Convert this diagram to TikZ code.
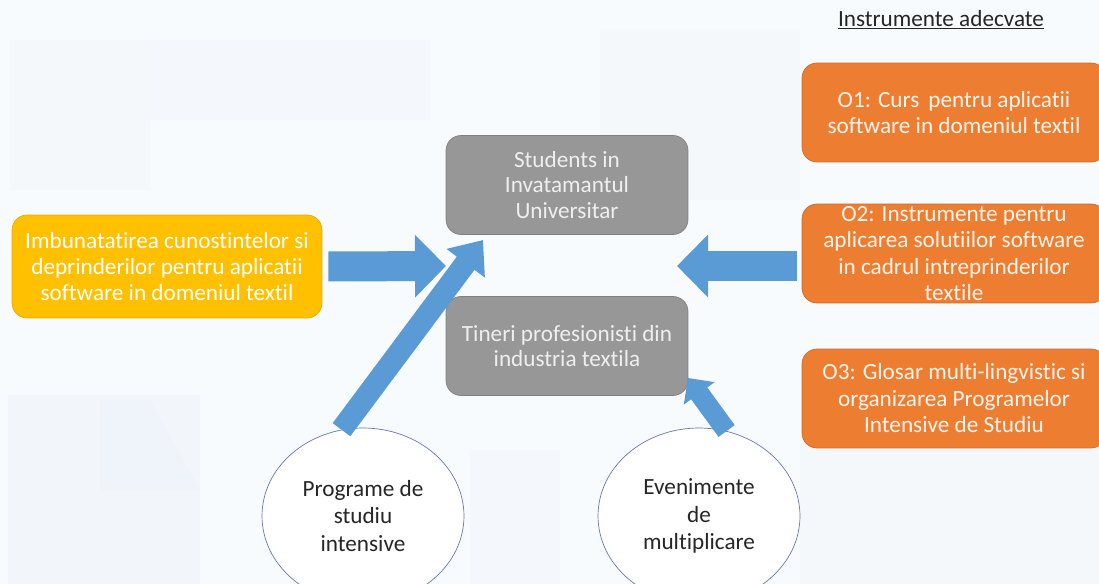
\documentclass[tikz,border=0pt]{standalone}
\usepackage{fontspec}
\setmainfont{Carlito}[Ligatures=NoCommon]
\usepackage{xcolor}
\usepackage{tikz}
\usetikzlibrary{arrows.meta,shapes.geometric,calc}

\definecolor{bgbase}{HTML}{F8FBFD}
\definecolor{bgpatch}{HTML}{EEF4FA}
\definecolor{aimyellow}{HTML}{FFC000}
\definecolor{aimyellowline}{HTML}{E3AC00}
\definecolor{groupgray}{HTML}{979797}
\definecolor{groupgrayline}{HTML}{808080}
\definecolor{grouptext}{HTML}{EFEFEF}
\definecolor{toolorange}{HTML}{ED7D31}
\definecolor{toolorangeline}{HTML}{D0692A}
\definecolor{tooltext}{HTML}{FFF4EC}
\definecolor{flowblue}{HTML}{5B9BD5}
\definecolor{ovalline}{HTML}{6A78B0}

\begin{document}
\begin{tikzpicture}[x=0.02cm, y=-0.02cm,
    boxbase/.style={rounded corners=0.3cm, align=center, inner sep=0pt},
    aimbox/.style={boxbase, fill=aimyellow, draw=aimyellowline, text=white,
        minimum width=6.2cm, minimum height=2.06cm, font=\fontsize{13.2}{14.8}\selectfont},
    groupbox/.style={boxbase, fill=groupgray, draw=groupgrayline, text=grouptext,
        minimum width=4.84cm, minimum height=1.98cm, font=\fontsize{13.2}{14.4}\selectfont},
    toolbox/.style={boxbase, fill=toolorange, draw=toolorangeline, text=tooltext,
        minimum width=6.08cm, minimum height=1.98cm, font=\fontsize{13.2}{15.1}\selectfont},
    tooltxt/.style={align=center, inner sep=0pt, text=tooltext, font=\fontsize{13.2}{15.1}\selectfont},
    oval/.style={ellipse, draw=ovalline, fill=white, inner sep=0pt, align=center,
        minimum width=4.04cm, minimum height=3.52cm, text=black!85,
        font=\fontsize{13.2}{15.6}\selectfont},
    flatarrow/.style={draw=flowblue, line width=0.6cm, -{Triangle[length=0.62cm, width=1.22cm]}},
    slantarrow/.style={draw=flowblue, line width=0.44cm, -{Triangle[length=0.58cm, width=0.92cm]}},
    shortarrow/.style={draw=flowblue, line width=0.4cm, -{Triangle[length=0.38cm, width=0.74cm]}}
]
    % Page frame and pale background
    \useasboundingbox (0,0) rectangle (1099,584);
    \clip (0,0) rectangle (1099,584);
    \fill[bgbase] (0,0) rectangle (1099,584);
    \fill[bgpatch, opacity=0.6] (8,395) -- (200,395) -- (200,584) -- (8,584) -- cycle;
    \fill[bgpatch, opacity=0.5] (100,400) -- (150,400) -- (200,490) -- (100,490) -- cycle;
    \fill[bgpatch, opacity=0.4] (10,40) -- (150,40) -- (150,190) -- (10,190) -- cycle;
    \fill[bgpatch, opacity=0.3] (150,40) -- (430,40) -- (430,120) -- (150,120) -- cycle;
    \fill[bgpatch, opacity=0.4] (600,30) -- (800,30) -- (800,200) -- (600,200) -- cycle;
    \fill[bgpatch, opacity=0.4] (800,440) -- (1099,440) -- (1099,584) -- (800,584) -- cycle;
    \fill[bgpatch, opacity=0.3] (470,450) -- (560,450) -- (560,584) -- (470,584) -- cycle;

    % Heading of the tools column
    \node[text=black!85, font=\fontsize{13.2}{15}\selectfont] (tooltitle) at (941,20) {\underline{Instrumente adecvate}};

    % Aim
    \node[aimbox] (aim) at (167,266.5) {Imbunatatirea cunostintelor si\\deprinderilor pentru aplicatii\\software in domeniul textil};

    % Target groups
    \node[groupbox] (students) at (567,185) {Students in\\Invatamantul\\Universitar};
    \node[groupbox] (youth) at (567,346) {Tineri profesionisti din\\industria textila};

    % Tools O1--O3
    \node[toolbox] (o1) at (954,112.5) {O1: Curs\, pentru aplicatii\\software in domeniul textil};
    \node[toolbox, label={[tooltxt]center:O2: Instrumente pentru\\aplicarea solutiilor software\\in cadrul intreprinderilor\\textile}] (o2) at (954,253.5) {};
    \node[toolbox] (o3) at (954,398.5) {O3: Glosar multi-lingvistic si\\organizarea Programelor\\Intensive de Studiu};

    % Activities
    \node[oval] (intensive) at (363,516) {Programe de\\studiu\\intensive};
    \node[oval] (events) at (699,516) {Evenimente\\de\\multiplicare};

    % Arrow ends between the target groups
    \coordinate (tipleft) at (446,266);
    \coordinate (tipright) at (677,266);
    \coordinate (tipstud) at (483,240);
    \coordinate (tipyouth) at (688,378);

    % Block arrows
    \draw[flatarrow] ([xshift=0.12cm]aim.east) -- (tipleft);
    \draw[flatarrow] ($(o2.west |- tipright)+(-5,0)$) -- (tipright);
    \draw[slantarrow] (intensive.104) -- (tipstud);
    \draw[shortarrow] (events.72) -- (tipyouth);

\end{tikzpicture}
\end{document}
